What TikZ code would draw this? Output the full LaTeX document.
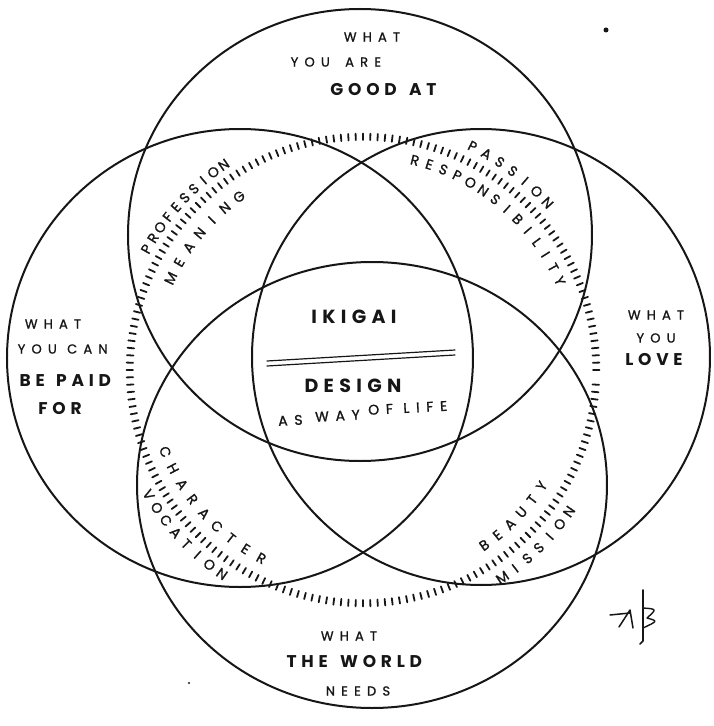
\documentclass[tikz,border=0pt]{standalone}
\usepackage{fontspec}
\setmainfont{Poppins}
\newfontfamily\handfont[LetterSpace=48, FakeBold=1.2]{Poppins}
\newfontfamily\handbold[LetterSpace=28]{Poppins}
\newfontfamily\arcfont[FakeBold=1.2]{Poppins}
\usetikzlibrary{positioning}
\definecolor{ink}{HTML}{161616}
\tikzset{el/.style={line cap=round, line join=round},
  loop/.style={ink, line width=2pt},
  tick/.style={ink, line width=1.8pt},
  plainlbl/.style={font=\handfont\fontsize{13}{15}\selectfont, text=ink, inner sep=0pt},
  boldlbl/.style={font=\handbold\bfseries\fontsize{17}{19}\selectfont, text=ink, inner sep=0pt},
  titlelbl/.style={font=\handbold\bfseries\fontsize{19}{21}\selectfont, text=ink, inner sep=0pt},
  lifelbl/.style={plainlbl, font=\handfont\fontsize{14}{16}\selectfont, rotate=3, anchor=west},
  arclbl/.style={font=\arcfont\fontsize{14}{16}\selectfont, text=ink, inner sep=0pt}}
% letters set one by one round the ring: name, radius, first angle, step, turn, letters
\newcommand{\arcword}[6]{%
  \foreach \ch [count=\k from 0] in {#6}{%
    \pgfmathsetmacro\ang{#3+\k*#4}%
    \node[arclbl, rotate=\ang+#5] (#1\k) at (\ang:#2) {\ch};}}

\begin{document}
\begin{tikzpicture}[el, x=1pt, y=1pt]
  \useasboundingbox (-363,-363) rectangle (351,363);
  % the four circles
  \draw[loop] (-3,128) ellipse (232 and 226);
  \draw[loop] (-123,5) ellipse (233 and 229);
  \draw[loop] (118,6) ellipse (229 and 228);
  \draw[loop] (9,-122) ellipse (235 and 223);
  % ticked ring and the words round it
  \begin{scope}[shift={(0,-7)}]
    \foreach \a in {0,1.8,...,358}
       \draw[tick] (\a:230) -- (\a:236.5);
    \arcword{prof}{248}{150.8}{-2.96}{-90}{P,R,O,F,E,S,S,I,O,N}
    \arcword{mean}{213}{154.5}{-4.82}{-90}{M,E,A,N,I,N,G}
    \arcword{pass}{249}{63.9}{-3.62}{-90}{P,A,S,S,I,O,N}
    \arcword{resp}{216}{76.1}{-3.98}{-90}{R,E,S,P,O,N,S,I,B,I,L,I,T,Y}
    \arcword{char}{214}{202.5}{4.89}{90}{C,H,A,R,A,C,T,E,R}
    \arcword{voca}{248}{210.2}{3.59}{90}{V,O,C,A,T,I,O,N}
    \arcword{beau}{213}{-55.3}{4.46}{90}{B,E,A,U,T,Y}
    \arcword{miss}{250}{-56.1}{3.6}{90}{M,I,S,S,I,O,N}
  \end{scope}
  % outer texts
  \node[plainlbl] (topwhat) at (9,326) {WHAT};
  \node[plainlbl, anchor=east] (topyou) at (-33,301) {YOU};
  \node[plainlbl, right=15pt of topyou] (topare) {ARE};
  \node[boldlbl, anchor=east] (topgood) at (34,273) {GOOD};
  \node[boldlbl, right=12pt of topgood] (topat) {AT};
  \node[plainlbl] (leftwhat) at (-310,39) {WHAT};
  \node[plainlbl, anchor=east] (leftyou) at (-306,14) {YOU};
  \node[plainlbl, right=10pt of leftyou] (leftcan) {CAN};
  \node[boldlbl, anchor=east] (leftbe) at (-318,-18) {BE};
  \node[boldlbl, right=11pt of leftbe] (leftpaid) {PAID};
  \node[boldlbl] (leftfor) at (-303,-46) {FOR};
  \node[plainlbl] (rightwhat) at (293,48) {WHAT};
  \node[plainlbl] (rightyou) at (293,25) {YOU};
  \node[boldlbl] (rightlove) at (291,3) {LOVE};
  \node[plainlbl] (botwhat) at (-14,-273) {WHAT};
  \node[boldlbl, anchor=east] (botthe) at (-35,-299) {THE};
  \node[boldlbl, right=12pt of botthe] (botworld) {WORLD};
  \node[plainlbl] (botneeds) at (-5,-328) {NEEDS};
  % centre
  \node[titlelbl] (ikigai) at (-9,46) {IKIGAI};
  \draw[ink, line width=1.2pt] (-96,2) -- (92,13);
  \draw[ink, line width=1.2pt] (-96,-3) -- (92,8);
  \node[titlelbl] (design) at (-10,-23) {DESIGN};
  \node[lifelbl] (lifeas) at (-85,-58) {AS};
  \node[lifelbl] (lifeway) at (-48,-54) {WAY};
  \node[lifelbl] (lifeof) at (5,-47) {OF LIFE};
  % monogram and specks
  \draw[ink, line width=1.5pt] (247,-252) -- (267,-250);
  \draw[ink, line width=1.5pt] (256,-264) -- (267,-247) -- (270,-265);
  \draw[ink, line width=1.6pt] (280,-227) -- (280,-278) -- (277,-281);
  \draw[ink, line width=1.4pt] (280,-245) .. controls (294,-246) .. (284,-255) .. controls (295,-258) .. (280,-265);
  \fill[ink] (243,333) circle (2.5);
  \fill[ink] (-174,-320) circle (1.2);
\end{tikzpicture}
\end{document}
